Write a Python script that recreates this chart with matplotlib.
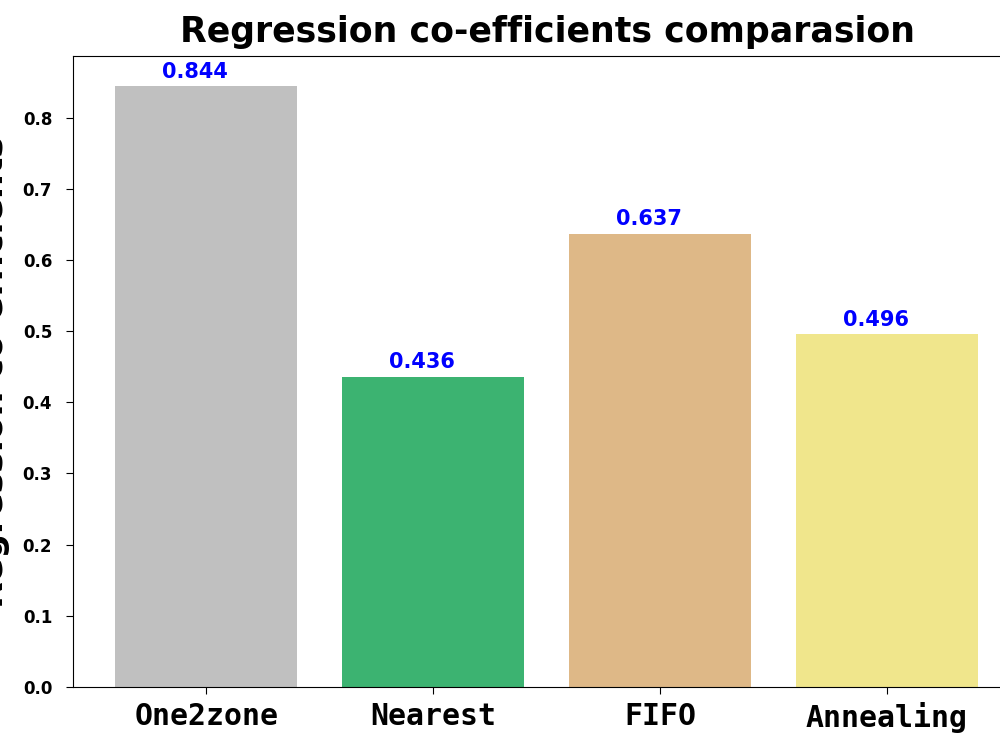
import matplotlib.pyplot as plt

metodos = ['One2zone', 'Nearest', 'FIFO', 'Annealing']
coefs = [0.844, 0.436, 0.637, 0.496]
colores = ['silver', 'mediumseagreen', 'burlywood', 'khaki']

fig = plt.figure(figsize=(10, 7.5), dpi=100)
ax = fig.add_axes((0.073, 0.084, 0.95, 0.925 - 0.084))

barras = ax.bar(metodos, coefs, width=0.8, color=colores)
for i, v in enumerate(coefs):
    ax.text(i - 0.05, v + 0.006, '%.3f' % v,
            ha='center', va='bottom', color='blue', fontsize=15, fontweight='bold')

ax.set_xlim(-0.587, 3.6)
ax.set_ylim(0, 0.8862)
ax.set_yticks([0.0, 0.1, 0.2, 0.3, 0.4, 0.5, 0.6, 0.7, 0.8])
ax.tick_params(axis='y', length=5, pad=10)
ax.tick_params(axis='x', length=5, pad=6)
for t in ax.get_yticklabels():
    t.set_fontweight('bold')
    t.set_fontsize(12)
for t in ax.get_xticklabels():
    t.set_family('DejaVu Sans Mono')
    t.set_fontsize(21.5)
    t.set_fontweight('bold')

ax.set_title('Regression co-efficients comparasion', fontsize=25, fontweight='heavy', pad=10)
ax.set_ylabel('Regression co-efficients', fontsize=25, fontweight='bold')
ax.yaxis.set_label_coords(-0.0665, 0.5)

fig.savefig('out.png', dpi=100)
